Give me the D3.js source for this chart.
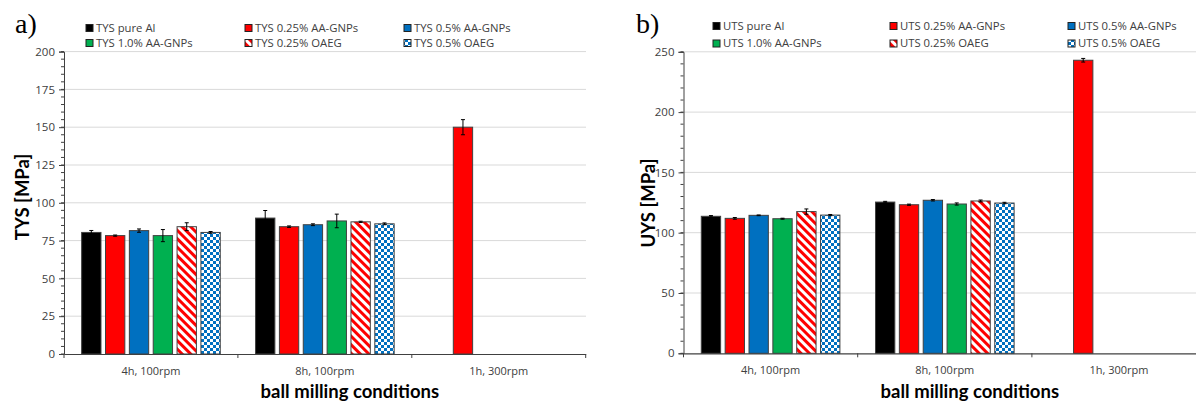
<!DOCTYPE html>
<html><head><meta charset="utf-8">
<script src="https://cdn.jsdelivr.net/npm/d3@7"></script>
<style>body{margin:0;background:#fff;} svg{display:block;}</style>
</head><body>
<svg id="c" width="1196" height="402"></svg>
<script>
const categories = ["4h, 100rpm", "8h, 100rpm", "1h, 300rpm"];
const tysNames = ["TYS pure Al", "TYS 0.25% AA-GNPs", "TYS 0.5% AA-GNPs", "TYS 1.0% AA-GNPs", "TYS 0.25% OAEG", "TYS 0.5% OAEG"];
const utsNames = ["UTS pure Al", "UTS 0.25% AA-GNPs", "UTS 0.5% AA-GNPs", "UTS 1.0% AA-GNPs", "UTS 0.25% OAEG", "UTS 0.5% OAEG"];
// values per series, per category (null = no bar)
const tysValues = [
  [80.4, 89.9, null],
  [78.3, 84.2, 150.0],
  [81.6, 85.5, null],
  [78.3, 88.0, null],
  [84.2, 87.4, null],
  [80.4, 86.1, null]
];
const tysErrors = [
  [1.3, 5.0, null],
  [0.4, 0.5, 5.0],
  [1.1, 0.6, null],
  [4.0, 4.5, null],
  [2.6, 0.4, null],
  [0.6, 0.6, null]
];
const utsValues = [
  [113.6, 125.4, null],
  [111.9, 123.2, 243.0],
  [114.4, 126.9, null],
  [111.6, 123.8, null],
  [117.5, 126.3, null],
  [114.6, 124.6, null]
];
const utsErrors = [
  [0.6, 0.6, null],
  [0.7, 0.5, 1.5],
  [0.3, 0.6, null],
  [0.4, 0.9, null],
  [2.2, 0.8, null],
  [0.5, 0.6, null]
];
const tysTicks = [0, 25, 50, 75, 100, 125, 150, 175, 200];
const utsTicks = [0, 50, 100, 150, 200, 250];

const svg = d3.select("#c");
const defs = svg.append("defs");
// hatched red pattern
const ph = defs.append("pattern").attr("id", "hatch").attr("patternUnits", "userSpaceOnUse")
  .attr("width", 6).attr("height", 6).attr("patternTransform", "rotate(45)");
ph.append("rect").attr("width", 6).attr("height", 6).attr("fill", "#fff");
ph.append("rect").attr("width", 6).attr("height", 3).attr("fill", "#ff0000");
// checker blue pattern
const pc = defs.append("pattern").attr("id", "check").attr("patternUnits", "userSpaceOnUse")
  .attr("width", 6).attr("height", 6);
pc.append("rect").attr("width", 6).attr("height", 6).attr("fill", "#fff");
pc.append("rect").attr("width", 3).attr("height", 3).attr("fill", "#0070c0");
pc.append("rect").attr("x", 3).attr("y", 3).attr("width", 3).attr("height", 3).attr("fill", "#0070c0");

const fills = ["#000000", "#ff0000", "#0070c0", "#00b050", "url(#hatch)", "url(#check)"];
const font = "'Open Sans', sans-serif";
const titleFont = "Lato, 'Open Sans', sans-serif";

function panel(opt) {
  const g = svg.append("g");
  const x0 = d3.scaleBand().domain(categories).range([opt.left, opt.left + opt.catW * 3]).padding(0);
  const x1 = d3.scaleBand().domain(d3.range(6)).range([0, 6 * 23.1]).paddingInner(0.19);
  const y = d3.scaleLinear().domain([0, opt.max]).range([opt.bottom, opt.top]);

  // gridlines
  g.append("g").selectAll("line").data(opt.ticks.filter(t => t > 0)).join("line")
    .attr("x1", opt.left).attr("x2", opt.gridRight)
    .attr("y1", d => y(d)).attr("y2", d => y(d))
    .attr("stroke", "#d9d9d9").attr("stroke-width", 1);

  // y axis
  const ya = g.append("g").attr("transform", `translate(${opt.left},0)`)
    .call(d3.axisLeft(y).tickValues(opt.ticks).tickSize(5).tickPadding(4));
  ya.select(".domain").attr("stroke", "#404040");
  ya.selectAll(".tick line").attr("stroke", "#404040");
  ya.selectAll("text").attr("font-family", font).attr("font-size", 11.5).attr("fill", "#404040");
  // minor ticks
  g.append("g").selectAll("line").data(d3.range(0, opt.max + 0.001, opt.minor)).join("line")
    .attr("x1", opt.left - 3).attr("x2", opt.left)
    .attr("y1", d => y(d)).attr("y2", d => y(d)).attr("stroke", "#404040");

  // x axis
  const xa = g.append("g").attr("transform", `translate(0,${opt.bottom})`)
    .call(d3.axisBottom(x0).tickSize(0).tickPadding(13));
  xa.select(".domain").attr("stroke", "#404040").attr("stroke-width", 1.2);
  xa.selectAll("text").attr("font-family", font).attr("font-size", 11).attr("fill", "#404040");
  // category separators
  g.append("g").selectAll("line").data(d3.range(4)).join("line")
    .attr("x1", i => opt.left + i * x0.step()).attr("x2", i => opt.left + i * x0.step())
    .attr("y1", opt.bottom).attr("y2", opt.bottom + 4).attr("stroke", "#404040");

  // bars
  const groupW = 6 * 23.1;
  const barsData = [];
  opt.values.forEach((vals, s) => vals.forEach((v, c) => {
    if (v != null) barsData.push({ s, c, v, e: opt.errors[s][c] });
  }));
  const bx = d => x0(categories[d.c]) + (x0.bandwidth() - groupW) / 2 + x1(d.s);
  g.append("g").selectAll("rect").data(barsData).join("rect")
    .attr("x", bx).attr("width", x1.bandwidth())
    .attr("y", d => y(d.v)).attr("height", d => y(0) - y(d.v))
    .attr("fill", d => fills[d.s]).attr("stroke", "#404040").attr("stroke-width", 1);
  // error bars
  const eg = g.append("g").attr("stroke", "#000").attr("stroke-width", 1);
  barsData.forEach(d => {
    const cx = bx(d) + x1.bandwidth() / 2;
    eg.append("line").attr("x1", cx).attr("x2", cx).attr("y1", y(d.v + d.e)).attr("y2", y(d.v - d.e));
    eg.append("line").attr("x1", cx - 2).attr("x2", cx + 2).attr("y1", y(d.v + d.e)).attr("y2", y(d.v + d.e));
    eg.append("line").attr("x1", cx - 2).attr("x2", cx + 2).attr("y1", y(d.v - d.e)).attr("y2", y(d.v - d.e));
  });

  // legend
  const lg = g.append("g");
  opt.names.forEach((n, i) => {
    const col = i % 3, row = Math.floor(i / 3);
    const lx = opt.legX[col], ly = opt.legY[row];
    lg.append("rect").attr("x", lx).attr("y", ly - 3.5).attr("width", 7).attr("height", 7)
      .attr("fill", fills[i]).attr("stroke", "#222").attr("stroke-width", 1);
    lg.append("text").attr("x", lx + 10).attr("y", ly).attr("dy", "0.35em")
      .attr("font-family", font).attr("font-size", 11.3).attr("fill", "#404040").text(n);
  });

  // axis titles
  g.append("text").attr("transform", `translate(${opt.yTitleX},${opt.yTitleY}) rotate(-90)`)
    .attr("text-anchor", "middle").attr("dy", "0.35em")
    .attr("font-family", titleFont).attr("font-weight", "bold").attr("font-size", 18.5).attr("fill", "#000")
    .text(opt.yTitle);
  g.append("text").attr("x", opt.left + 1.5 * x0.step() + 25).attr("y", 392).attr("dy", "0.35em")
    .attr("text-anchor", "middle").attr("font-family", titleFont).attr("font-weight", "bold")
    .attr("font-size", 18.5).attr("fill", "#000").text("ball milling conditions");
  // panel label
  g.append("text").attr("x", opt.labelX).attr("y", 33)
    .attr("font-family", "'Liberation Serif', 'DejaVu Serif', serif").attr("font-size", 28)
    .attr("fill", "#000").text(opt.label);
}

panel({
  left: 64, catW: 173.9, top: 51.6, bottom: 354, max: 200, ticks: tysTicks, minor: 5,
  gridRight: 586, values: tysValues, errors: tysErrors, names: tysNames,
  legX: [86, 245, 404], legY: [28, 43], yTitle: "TYS [MPa]", yTitleX: 23, yTitleY: 197,
  label: "a)", labelX: 15
});
panel({
  left: 683.5, catW: 174.2, top: 51.8, bottom: 353.3, max: 250, ticks: utsTicks, minor: 10,
  gridRight: 1196, values: utsValues, errors: utsErrors, names: utsNames,
  legX: [713, 890, 1068], legY: [26, 43.5], yTitle: "UYS [MPa]", yTitleX: 649, yTitleY: 203,
  label: "b)", labelX: 636
});
</script>
</body></html>
